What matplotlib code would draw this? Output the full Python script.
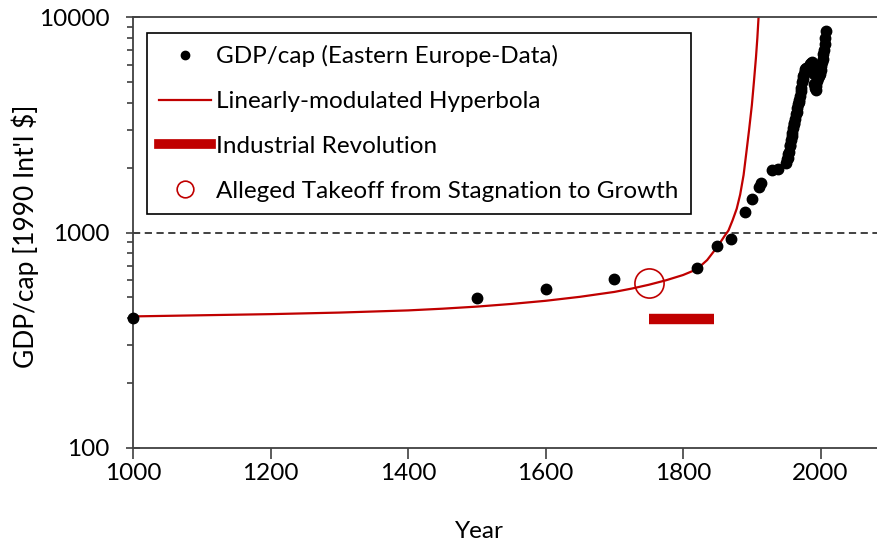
import numpy as np
import matplotlib.pyplot as plt
from matplotlib.lines import Line2D
from matplotlib.ticker import LogLocator, NullFormatter

plt.rcParams['font.family'] = ['Lato', 'DejaVu Sans']

# GDP per capita data points (Eastern Europe)
data_years = [1000, 1500, 1600, 1700, 1820, 1850, 1870, 1890, 1900, 1910, 1913, 1929, 1938,
              1950, 1951, 1952, 1953, 1954, 1955, 1956, 1957, 1958, 1959,
              1960, 1961, 1962, 1963, 1964, 1965, 1966, 1967, 1968, 1969,
              1970, 1971, 1972, 1973, 1974, 1975, 1976, 1977, 1978, 1979,
              1980, 1981, 1982, 1983, 1984, 1985, 1986, 1987, 1988, 1989,
              1990, 1991, 1992, 1993, 1994, 1995, 1996, 1997, 1998, 1999,
              2000, 2001, 2002, 2003, 2004, 2005, 2006, 2007, 2008]
data_gdp = [400, 496, 548, 606, 683, 870, 937, 1250, 1438, 1620, 1695, 1942, 1968,
            2111, 2185, 2227, 2306, 2360, 2510, 2560, 2686, 2805, 2881,
            3070, 3180, 3232, 3368, 3533, 3612, 3801, 3936, 4040, 4128,
            4315, 4515, 4700, 4985, 5180, 5340, 5440, 5610, 5760, 5795,
            5786, 5700, 5770, 5880, 6020, 5990, 6120, 6080, 6180, 5905,
            5440, 4885, 4670, 4600, 4780, 5040, 5210, 5340, 5440, 5420,
            5700, 5900, 6150, 6400, 6750, 7050, 7500, 8000, 8600]

# linearly-modulated hyperbola
fit_years = [1000, 1100, 1200, 1300, 1400, 1450, 1500, 1550, 1600, 1650, 1700, 1725,
             1750, 1775, 1800, 1820, 1835, 1850, 1860, 1866, 1872, 1878, 1883, 1888,
             1892, 1896, 1900, 1903, 1906, 1908, 1910, 1911]
fit_gdp = [408, 413, 418, 425, 435, 443, 453, 466, 482, 503, 530, 549,
           572, 600, 635, 675, 745, 860, 960, 1022, 1140, 1290, 1500, 1850,
           2350, 3000, 3900, 5000, 6500, 8000, 10300, 12000]

takeoff_year = 1750
takeoff_gdp = 580
ir_years = [1750, 1845]
ir_level = 398

RED = '#C00000'
FS = 17.5

fig = plt.figure(figsize=(8.77, 5.45), dpi=100)
ax = fig.add_axes([133 / 877, 97 / 545, 744 / 877, 431 / 545])

ax.axhline(1000, color='#333333', lw=1.3, dashes=[4, 2.5], zorder=1)
ax.plot(fit_years, fit_gdp, color=RED, lw=1.6, zorder=2)
ax.plot(data_years, data_gdp, 'o', color='black', ms=7.5, zorder=3, clip_on=False)
ax.plot([takeoff_year], [takeoff_gdp], 'o', ms=21, mfc='none', mec=RED, mew=1.2, zorder=4)
ax.plot(ir_years, [ir_level, ir_level], color=RED, lw=7.5, solid_capstyle='butt', zorder=2)

ax.set_yscale('log')
ax.set_xlim(1000, 2082)
ax.set_ylim(100, 10000)
ax.set_xticks([1000, 1200, 1400, 1600, 1800, 2000])
ax.set_yticks([100, 1000, 10000])
ax.set_yticklabels(['100', '1000', '10000'])
ax.yaxis.set_minor_locator(LogLocator(base=10, subs=np.arange(2, 10)))
ax.yaxis.set_minor_formatter(NullFormatter())

for s in ['left', 'bottom', 'top']:
    ax.spines[s].set_color('#404040')
    ax.spines[s].set_linewidth(1.3)
ax.spines['right'].set_visible(False)

ax.tick_params(axis='x', which='major', direction='out', length=8, width=1.2,
               color='#404040', labelsize=FS, pad=3)
ax.tick_params(axis='y', which='major', direction='inout', length=10, width=1.2,
               color='#404040', labelsize=FS, pad=12)
ax.tick_params(axis='y', which='minor', direction='out', length=4, width=1.2, color='#404040')

ax.set_xlabel('Year', fontsize=FS)
ax.set_ylabel("GDP/cap [1990 Int'l $]", fontsize=19)
ax.xaxis.set_label_coords(0.466, -0.17)
ax.yaxis.set_label_coords(-0.127, 0.49)

handles = [
    Line2D([], [], marker='o', ls='none', color='black', ms=6),
    Line2D([], [], color=RED, lw=1.6),
    Line2D([], [], color=RED, lw=7),
    Line2D([], [], marker='o', ls='none', ms=12, mfc='none', mec=RED, mew=1.2),
]
labels = ['GDP/cap (Eastern Europe-Data)', 'Linearly-modulated Hyperbola',
          'Industrial Revolution', 'Alleged Takeoff from Stagnation to Growth']
leg = ax.legend(handles, labels, loc='upper left', bbox_to_anchor=(147 / 877, 1 - 33 / 545),
                bbox_transform=fig.transFigure, fontsize=FS, frameon=True, fancybox=False,
                edgecolor='black', framealpha=1, handlelength=2.15, handletextpad=0.2,
                labelspacing=0.98, borderpad=0.5, borderaxespad=0)
leg.get_frame().set_linewidth(1.2)

plt.savefig('out.png', dpi=100)
